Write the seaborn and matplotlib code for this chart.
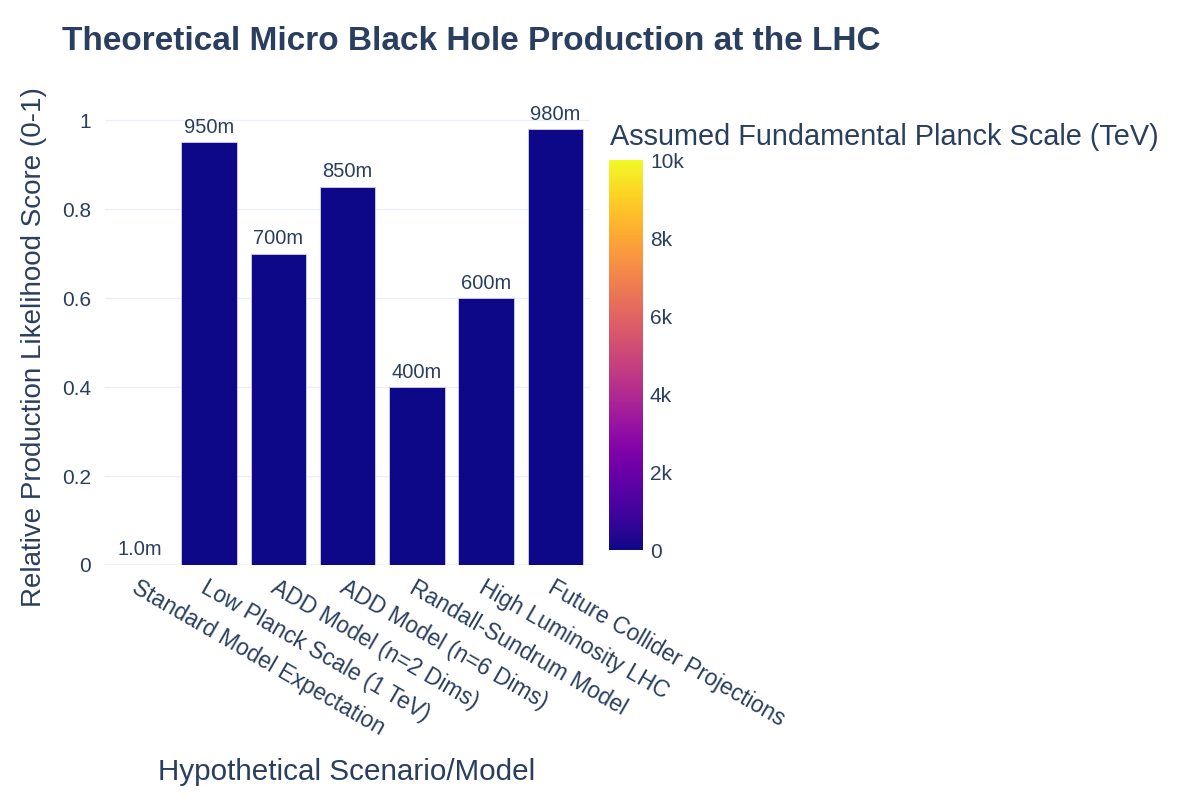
import matplotlib
matplotlib.use("Agg")
import matplotlib.pyplot as plt
import matplotlib.colors as mcolors
import matplotlib.cm as cm
import seaborn as sns
import pandas as pd

sns.set_theme(style="white")
plt.rcParams['font.family'] = ['Liberation Sans', 'DejaVu Sans']

TEXT = '#2a3f5f'
GRID = '#ebf0f8'

scenarios = [
    'Standard Model Expectation',
    'Low Planck Scale (1 TeV)',
    'ADD Model (n=2 Dims)',
    'ADD Model (n=6 Dims)',
    'Randall-Sundrum Model',
    'High Luminosity LHC',
    'Future Collider Projections',
]
likelihood = [0.001, 0.95, 0.70, 0.85, 0.40, 0.60, 0.98]
planck_scale_tev = [10000, 1, 3, 2, 5, 4, 10]


def si_label(v):
    # plotly-style SI suffix for the bar text
    if v < 1:
        m = v * 1000
        return f"{m:.1f}m" if m < 10 else f"{m:.0f}m"
    return f"{v:g}"


df = pd.DataFrame({'scenario': scenarios, 'score': likelihood, 'planck': planck_scale_tev})

norm = mcolors.Normalize(vmin=0, vmax=10000)
cmap = plt.get_cmap('plasma')
palette = {s: cmap(norm(p)) for s, p in zip(df['scenario'], df['planck'])}

fig = plt.figure(figsize=(12, 8), dpi=100)
ax = fig.add_axes([105 / 1200, 235 / 800, 485 / 1200, 459 / 800])

sns.barplot(data=df, x='scenario', y='score', hue='scenario', palette=palette,
            legend=False, width=0.8, saturation=1, edgecolor='#d0d0ea',
            linewidth=0.6, ax=ax)

ax.set_ylim(0, 1.0316)
ax.set_xlim(-0.5, len(scenarios) - 0.5)
ax.set_yticks([0, 0.2, 0.4, 0.6, 0.8, 1.0])
ax.set_yticklabels(['0', '0.2', '0.4', '0.6', '0.8', '1'], color=TEXT, fontsize=15)
ax.yaxis.grid(True, color=GRID, linewidth=1)
ax.set_axisbelow(True)
ax.axhline(0, color=GRID, linewidth=2, zorder=0)
for s in ax.spines.values():
    s.set_visible(False)
ax.tick_params(axis='y', length=0, pad=10)

ax.set_xticks(range(len(scenarios)))
ax.set_xticklabels(scenarios, rotation=-30, ha='left', va='top',
                   rotation_mode='anchor', color=TEXT, fontsize=16.5)
ax.tick_params(axis='x', length=0, pad=8)

for i, v in enumerate(df['score']):
    ax.text(i, v + 0.012, si_label(v), ha='center', va='bottom',
            color=TEXT, fontsize=14.5, clip_on=False)

ax.set_xlabel('')
ax.set_ylabel('')
fig.text(347 / 1200, 1 - 772 / 800, 'Hypothetical Scenario/Model',
         ha='center', va='center', color=TEXT, fontsize=21.3)
fig.text(34 / 1200, 1 - 347 / 800, 'Relative Production Likelihood Score (0-1)',
         ha='center', va='center', rotation=90, color=TEXT, fontsize=20)

fig.text(62 / 1200, 1 - 42 / 800, 'Theoretical Micro Black Hole Production at the LHC',
         ha='left', va='center', color=TEXT, fontsize=24, fontweight='bold')

cax = fig.add_axes([609 / 1200, 250 / 800, 34 / 1200, 390 / 800])
sm = cm.ScalarMappable(norm=norm, cmap=cmap)
cb = fig.colorbar(sm, cax=cax)
cb.outline.set_visible(False)
cb.set_ticks([0, 2000, 4000, 6000, 8000, 10000])
cb.set_ticklabels(['0', '2k', '4k', '6k', '8k', '10k'])
cax.tick_params(length=0, labelsize=15, labelcolor=TEXT, pad=5)
fig.text(610 / 1200, 1 - 137 / 800, 'Assumed Fundamental Planck Scale (TeV)',
         ha='left', va='center', color=TEXT, fontsize=20.8)

fig.savefig('out.png', dpi=100, facecolor='white')
